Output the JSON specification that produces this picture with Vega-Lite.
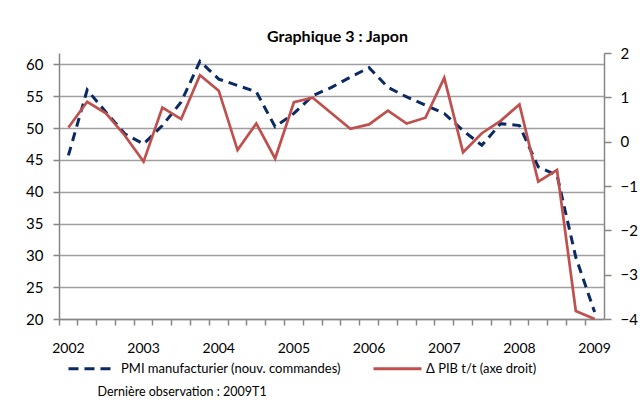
{
  "$schema": "https://vega.github.io/schema/vega-lite/v6.json",
  "autosize": {"type": "none"},
  "width": 545,
  "height": 266,
  "padding": {"left": 59, "top": 53, "right": 36, "bottom": 96},
  "background": "white",
  "title": {"text": "Graphique 3 : Japon", "font": "Lato", "fontSize": 16, "fontWeight": "bold", "color": "#000000", "anchor": "middle", "dx": 6, "offset": 1},
  "config": {"view": {"stroke": null}, "font": "Lato"},
  "data": {"values": [
    {"q": "2002T1", "pmi": 45.7, "pib": 0.32},
    {"q": "2002T2", "pmi": 56.0, "pib": 0.90},
    {"q": "2002T3", "pmi": 52.5, "pib": 0.64},
    {"q": "2002T4", "pmi": 49.1, "pib": 0.14},
    {"q": "2003T1", "pmi": 47.5, "pib": -0.45},
    {"q": "2003T2", "pmi": 50.4, "pib": 0.77},
    {"q": "2003T3", "pmi": 54.1, "pib": 0.51},
    {"q": "2003T4", "pmi": 60.5, "pib": 1.50},
    {"q": "2004T1", "pmi": 57.7, "pib": 1.15},
    {"q": "2004T2", "pmi": 56.7, "pib": -0.19},
    {"q": "2004T3", "pmi": 55.7, "pib": 0.41},
    {"q": "2004T4", "pmi": 50.2, "pib": -0.38},
    {"q": "2005T1", "pmi": 52.3, "pib": 0.89},
    {"q": "2005T2", "pmi": 55.1, "pib": 0.99},
    {"q": "2005T3", "pmi": 56.4, "pib": 0.64},
    {"q": "2005T4", "pmi": 58.0, "pib": 0.29},
    {"q": "2006T1", "pmi": 59.5, "pib": 0.39},
    {"q": "2006T2", "pmi": 56.4, "pib": 0.70},
    {"q": "2006T3", "pmi": 54.9, "pib": 0.41},
    {"q": "2006T4", "pmi": 53.6, "pib": 0.54},
    {"q": "2007T1", "pmi": 52.3, "pib": 1.44},
    {"q": "2007T2", "pmi": 49.6, "pib": -0.24},
    {"q": "2007T3", "pmi": 47.3, "pib": 0.19},
    {"q": "2007T4", "pmi": 50.7, "pib": 0.47},
    {"q": "2008T1", "pmi": 50.4, "pib": 0.84},
    {"q": "2008T2", "pmi": 43.9, "pib": -0.90},
    {"q": "2008T3", "pmi": 42.6, "pib": -0.64},
    {"q": "2008T4", "pmi": 29.7, "pib": -3.82},
    {"q": "2009T1", "pmi": 21.1, "pib": -4.0}
  ]},
  "layer": [
    {
      "mark": {"type": "line", "strokeWidth": 3, "strokeDash": [9, 6], "strokeCap": "butt"},
      "encoding": {
        "x": {"field": "q", "type": "ordinal", "sort": null,
          "scale": {"type": "band", "paddingInner": 0, "paddingOuter": 0},
          "axis": {"orient": "bottom", "bandPosition": 0, "labels": false, "title": null, "ticks": true, "tickSize": 6, "tickColor": "#868686", "domainColor": "#868686", "domainWidth": 1.5, "tickWidth": 1.5, "grid": false}},
        "y": {"field": "pmi", "type": "quantitative",
          "scale": {"domain": [20, 61.8], "nice": false, "zero": false},
          "axis": {"orient": "left", "values": [20, 25, 30, 35, 40, 45, 50, 55, 60], "title": null, "grid": true, "gridColor": "#a0a0a0", "gridWidth": 1.3, "domainColor": "#868686", "domainWidth": 1.5, "tickColor": "#868686", "tickWidth": 1.5, "tickSize": 6, "labelPadding": 10, "labelFont": "Lato", "labelFontSize": 15, "labelColor": "#000000"}},
        "color": {"datum": "PMI manufacturier (nouv. commandes)", "type": "nominal",
          "scale": {"domain": ["PMI manufacturier (nouv. commandes)", "Δ PIB t/t (axe droit)"], "range": ["#0b2a63", "#c0504d"]},
          "legend": {"orient": "none", "legendX": 8, "legendY": 290, "direction": "horizontal", "title": null,
            "symbolType": "stroke", "symbolSize": 2304, "symbolStrokeWidth": 3, "labelFont": "Lato", "labelFontSize": 13, "labelColor": "#000000", "labelLimit": 400, "labelOffset": 3, "columnPadding": 26,
            "encode": {"symbols": {"update": {"strokeDash": {"signal": "datum.value === 'PMI manufacturier (nouv. commandes)' ? [10, 6] : [1, 0]"}}}}}}
      }
    },
    {
      "mark": {"type": "line", "strokeWidth": 2.7},
      "encoding": {
        "x": {"field": "q", "type": "ordinal", "sort": null,
          "axis": {"orient": "bottom", "bandPosition": 0.5, "ticks": false, "domain": false, "grid": false, "labelAngle": 0, "labelOverlap": false, "labelPadding": 22, "labelFont": "Lato", "labelFontSize": 14, "labelColor": "#000000",
            "labelExpr": "indexof(datum.value, 'T1') > 0 ? slice(datum.value, 0, 4) : ''",
            "title": "Dernière observation : 2009T1", "titleFont": "Lato", "titleFontSize": 12.5, "titleFontWeight": "normal", "titleColor": "#000000", "titleAnchor": "start", "titleAlign": "left", "titleX": 38, "titleY": 76, "titleBaseline": "alphabetic"}},
        "y": {"field": "pib", "type": "quantitative",
          "scale": {"domain": [-4, 2], "nice": false, "zero": false},
          "axis": {"orient": "right", "values": [-4, -3, -2, -1, 0, 1, 2], "title": null, "grid": false, "domainColor": "#868686", "domainWidth": 1.5, "tickColor": "#868686", "tickWidth": 1.5, "tickSize": 7, "labelPadding": 9, "labelFont": "Lato", "labelFontSize": 15, "labelColor": "#000000"}},
        "color": {"datum": "Δ PIB t/t (axe droit)", "type": "nominal"}
      }
    }
  ],
  "resolve": {"scale": {"y": "independent"}, "axis": {"x": "independent"}}
}
